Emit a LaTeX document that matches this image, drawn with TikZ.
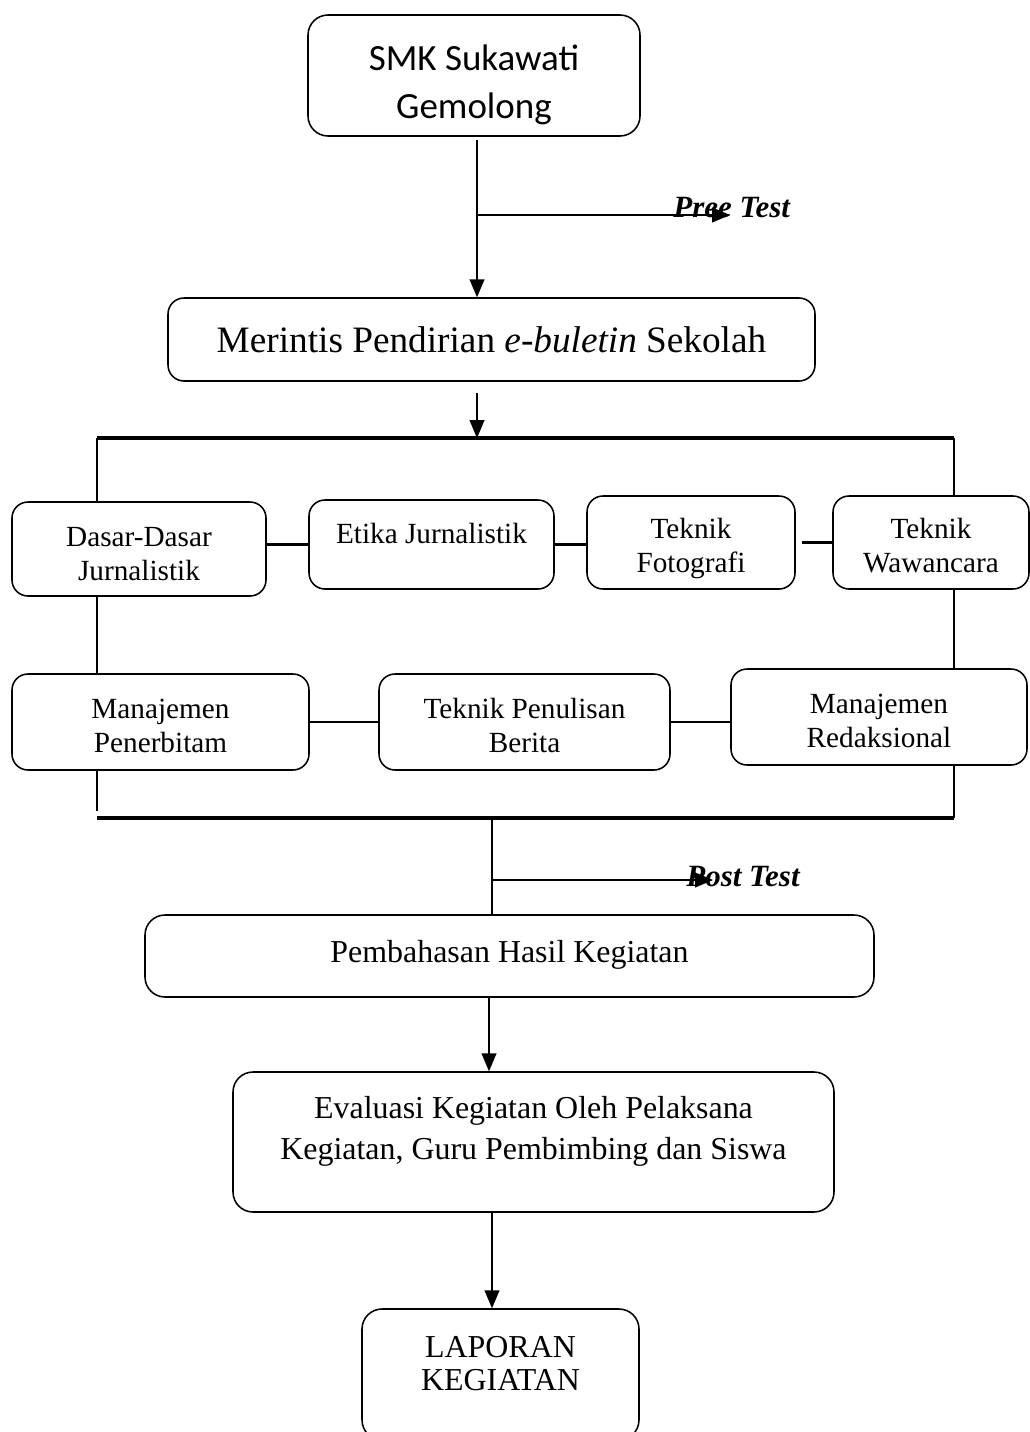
\documentclass[tikz,border=0pt]{standalone}
\usepackage{fontspec}
\setmainfont{Liberation Serif}
\newfontfamily\calibri{Carlito}
\usetikzlibrary{arrows}
\newcommand{\padlow}[1]{\rule[-#1]{0pt}{0pt}}
\newcommand{\padhigh}[1]{\rule{0pt}{#1}}
\tikzset{
	boxsize/.style 2 args = {minimum width=#1*0.025cm, minimum height=#2*0.025cm},
	box/.style = {draw, rounded corners=0.4cm, line width=1.1pt, align=center,
		inner sep=0pt},
	topbox/.style = {box, rounded corners=0.5cm,
		font=\calibri\fontsize{26.3}{34}\selectfont},
	bigbox/.style = {box, font=\fontsize{26.5}{30}\selectfont},
	subbox/.style = {box, font=\fontsize{20.8}{24}\selectfont},
	midbox/.style = {box, rounded corners=0.5cm, font=\fontsize{22.7}{23.5}\selectfont},
	testlbl/.style = {inner sep=0pt, anchor=base west,
		font=\bfseries\itshape\fontsize{22}{26}\selectfont},
	bar/.style = {line width=2.6pt},
	side/.style = {line width=1.6pt}
}
\begin{document}
\begin{tikzpicture}[x=0.025cm, y=-0.025cm, >=triangle 45, line width=2pt]
\useasboundingbox (0,0) rectangle (1030,1432);
% boxes
\node [topbox, boxsize={332}{121}] (smk) at (474,75.5)
	{\padhigh{31pt}SMK Sukawati\\Gemolong};
\node [bigbox, boxsize={647}{83}] (rintis) at (491.5,339.5)
	{Merintis Pendirian \textit{e-buletin} Sekolah};
\node [subbox, boxsize={254}{94}] (dasar) at (139,549) {\padhigh{21pt}Dasar-Dasar\\Jurnalistik};
\node [subbox, boxsize={245}{89}] (etika) at (431.5,544.5) {Etika Jurnalistik\padlow{16pt}};
\node [subbox, boxsize={208}{93}] (foto) at (691,542.5) {\padhigh{23pt}Teknik\\Fotografi};
\node [subbox, boxsize={196}{93}] (wawan) at (931,542.5) {\padhigh{19pt}Teknik\\Wawancara};
\node [subbox, boxsize={297}{96}] (terbit) at (160.5,722) {\padhigh{19.5pt}Manajemen\\Penerbitam};
\node [subbox, boxsize={291}{96}] (tulis) at (524.5,722) {\padhigh{19.5pt}Teknik Penulisan\\Berita};
\node [subbox, boxsize={296}{96}] (redaksi) at (879,717) {\padhigh{19.5pt}Manajemen\\Redaksional};
\node [midbox, boxsize={729}{82}] (bahas) at (509.5,956)
	{Pembahasan Hasil Kegiatan\padlow{7pt}};
\node [midbox, boxsize={601}{140}, font=\fontsize{22.7}{29}\selectfont] (eval) at (533.5,1142)
	{Evaluasi Kegiatan Oleh Pelaksana\\Kegiatan, Guru Pembimbing dan Siswa\padlow{20pt}};
\node [midbox, boxsize={277}{131}] (lapor) at (500.5,1374.5) {LAPORAN\\KEGIATAN\padlow{16pt}};
% spine points
\coordinate (s1) at (477,140);
\coordinate (pre) at (477,215);
\coordinate (preend) at (730,215);
\coordinate (s2) at (477,393);
\coordinate (tl) at (97,438);
\coordinate (tr) at (954,438);
\coordinate (bl) at (97,818);
\coordinate (br) at (954,818);
\coordinate (s3) at (492,818);
\coordinate (post) at (492,880);
\coordinate (postend) at (713,880);
\coordinate (s4) at (489,997);
\coordinate (s5) at (492,1212);
% arrows
\draw [->] (s1) -- (s1 |- rintis.north);
\draw [->] (pre) -- (preend);
\node [testlbl] (pretxt) at (672,218) {Pree Test};
\draw [->] (s2) -- (s2 |- tl);
\draw [bar] (tl) -- (tr);
\draw [bar] (bl) -- (br);
% frame sides
\draw [side] (tl) -- (tl |- dasar.north);
\draw [side] (dasar.south -| tl) -- (terbit.north -| tl);
\draw [side] (terbit.south -| tl) -- ++(0,40);
\draw [side] (tr) -- (tr |- wawan.north);
\draw [side] (wawan.south -| tr) -- (redaksi.north -| tr);
\draw [side] (redaksi.south -| tr) -- (br);
% links between topics
\draw (etika.west) -- (etika.west -| dasar.east);
\draw (etika.east) -- (etika.east -| foto.west);
\draw (wawan.west) -- ++(-30,0);
\draw (terbit.east) -- (tulis.west);
\draw (tulis.east) -- (tulis.east -| redaksi.west);
% lower part
\draw (s3) -- (s3 |- bahas.north);
\draw [->] (post) -- (postend);
\node [testlbl] (posttxt) at (685,886) {Post Test};
\draw [->] (s4) -- (s4 |- eval.north);
\draw [->] (s5) -- (s5 |- lapor.north);
\end{tikzpicture}
\end{document}
